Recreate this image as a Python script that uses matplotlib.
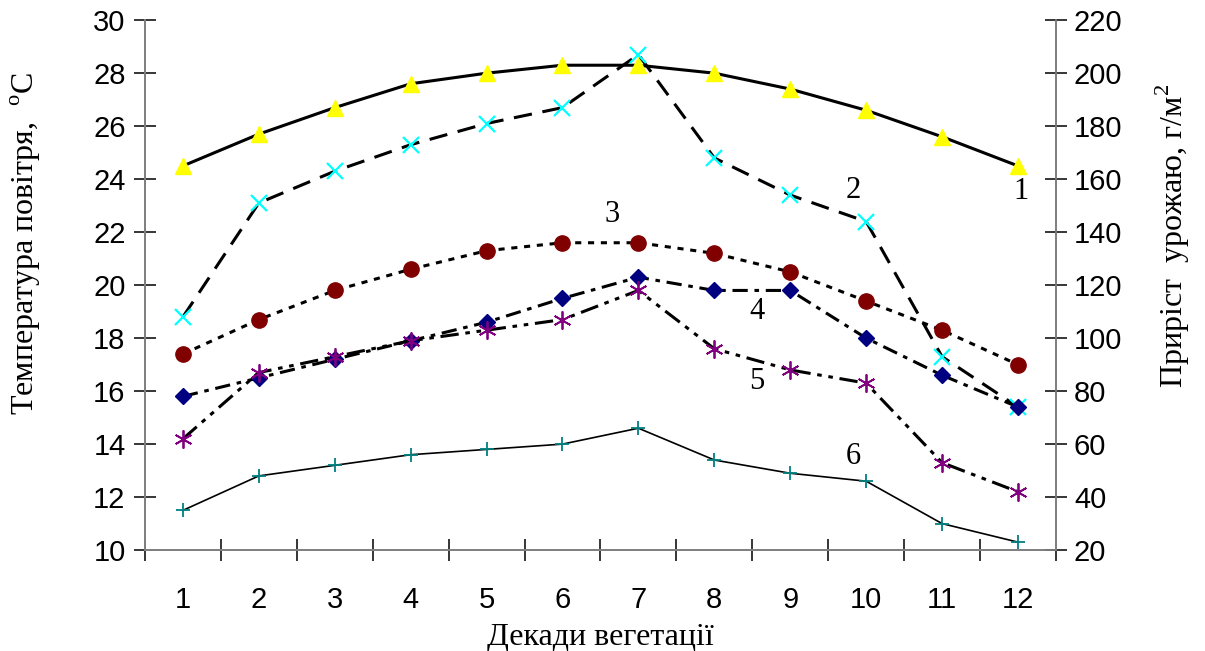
import matplotlib
matplotlib.use("Agg")
import matplotlib.pyplot as plt

plt.rcParams['font.family'] = ['Liberation Sans', 'DejaVu Sans']
plt.rcParams['mathtext.fontset'] = 'custom'
plt.rcParams['mathtext.rm'] = 'Liberation Serif'

decades = [1, 2, 3, 4, 5, 6, 7, 8, 9, 10, 11, 12]
# 1 - air temperature, C (left axis)
temp = [24.5, 25.7, 26.7, 27.6, 28.0, 28.3, 28.3, 28.0, 27.4, 26.6, 25.6, 24.5]
# 2..6 - yield increment, g/m2 (right axis)
inc2 = [108, 151, 163, 173, 181, 187, 207, 168, 154, 144, 93, 74]
inc3 = [94, 107, 118, 126, 133, 136, 136, 132, 125, 114, 103, 90]
inc4 = [78, 85, 92, 99, 106, 115, 123, 118, 118, 100, 86, 74]
inc5 = [62, 87, 93, 99, 103, 107, 118, 96, 88, 83, 53, 42]
inc6 = [35, 48, 52, 56, 58, 60, 66, 54, 49, 46, 30, 23]

fig = plt.figure(figsize=(12.05, 6.51), dpi=100)
ax = fig.add_axes([0.1203, 0.155, 0.7560, 0.814])
ax2 = ax.twinx()

ax.plot(decades, temp, color='black', lw=2.2, marker='^', ms=12,
        mfc='yellow', mec='yellow', zorder=3)
ax2.plot(decades, inc2, color='black', lw=2.2, ls=(0, (6, 3.5)),
         marker='x', ms=12, mec='cyan', mew=1.6)
ax2.plot(decades, inc3, color='black', lw=2.2, ls=(0, (2, 2.2)),
         marker='o', ms=11, mfc='#800000', mec='#800000')
ax2.plot(decades, inc4, color='black', lw=2.2, ls=(0, (5, 2.2, 1.5, 2.2)),
         marker='D', ms=8, mfc='#000080', mec='#000080')
ax2.plot(decades, inc5, color='black', lw=2.2,
         ls=(0, (6, 2.2, 1.5, 2.2, 1.5, 2.2)),
         marker=(6, 2, 0), ms=13, mec='#800080', mew=1.3)
ax2.plot(decades, inc6, color='black', lw=1.2,
         marker='+', ms=10, mec='#008080', mew=1.3)

ax.set_xlim(0.5, 12.5)
ax.set_ylim(10, 30)
ax2.set_ylim(20, 220)
ax.set_yticks(range(10, 31, 2))
ax2.set_yticks(range(20, 221, 20))
ax.set_xticks(decades)
ax.set_xticks([d + 0.5 for d in range(0, 13)], minor=True)

for a in (ax, ax2):
    for s in a.spines.values():
        s.set_color('#808080')
        s.set_linewidth(1.3)
    a.spines['top'].set_visible(False)
ax.tick_params(axis='x', which='major', length=0, pad=26, labelsize=21)
ax.tick_params(axis='x', which='minor', direction='inout', length=16, width=1.1)
ax.tick_params(axis='y', direction='inout', length=16, width=1.1, pad=6, labelsize=21)
ax2.tick_params(axis='y', direction='inout', length=16, width=1.1, pad=5, labelsize=21)

ax.set_xlabel('Декади вегетації', family='Liberation Serif', fontsize=23, va='center')
ax.set_ylabel('Температура повітря,  $^{\\rm o}$C', family='Liberation Serif',
              fontsize=23, va='center')
ax2.set_ylabel('Приріст  урожаю, г/м$^{\\rm 2}$', family='Liberation Serif',
               fontsize=23, va='center')
ax.xaxis.set_label_coords(0.5, -0.164)
ax.yaxis.set_label_coords(-0.131, 0.579)
ax2.yaxis.set_label_coords(1.128, 0.592)

# curve numbers
lab_kw = dict(textcoords='offset pixels', family='Liberation Serif',
              fontsize=22, ha='center', va='center')
ax.annotate('1', (decades[11], temp[11]), xytext=(3, -26), **lab_kw)
ax2.annotate('2', (decades[9], inc2[9]), xytext=(-13, 31), **lab_kw)
ax2.annotate('3', (decades[6], inc3[6]), xytext=(-26, 28), **lab_kw)
ax2.annotate('4', (decades[8], inc4[8]), xytext=(-33, -21), **lab_kw)
ax2.annotate('5', (decades[8], inc5[8]), xytext=(-33, -12), **lab_kw)
ax2.annotate('6', (decades[9], inc6[9]), xytext=(-13, 25), **lab_kw)

fig.savefig('out.png', dpi=100)
